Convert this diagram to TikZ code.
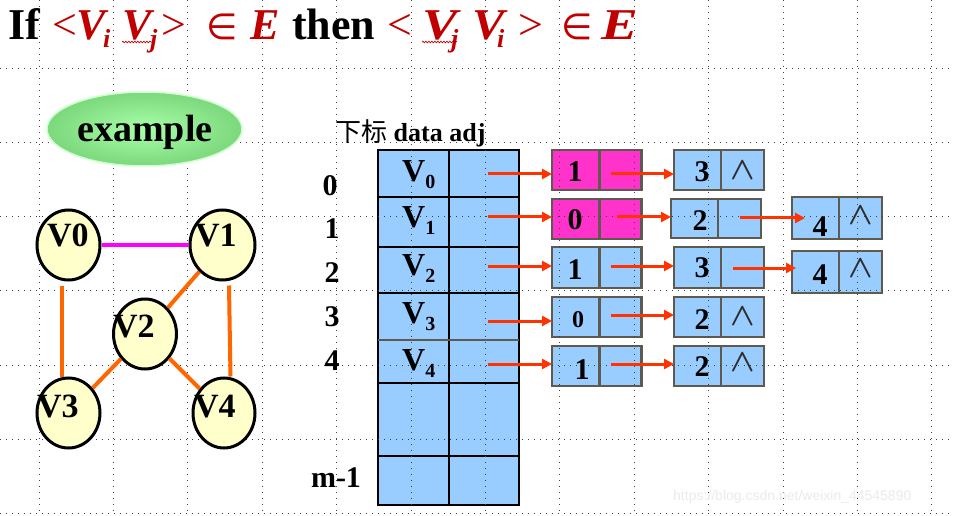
\RequirePackage{fix-cm}
\documentclass[tikz,border=0pt]{standalone}
\usepackage{fontspec}
\setmainfont{Liberation Serif}
\newfontfamily\dvs{DejaVu Sans}
\newfontfamily\cjk{Noto Sans CJK SC}
\newfontfamily\wmfont{Liberation Sans}
\usetikzlibrary{shapes.geometric,arrows.meta,decorations.pathmorphing,calc}
\definecolor{ttlred}{HTML}{C00000}
\definecolor{cellblue}{HTML}{99CCFF}
\definecolor{cellpink}{HTML}{FF33CC}
\definecolor{cellgray}{HTML}{5F5A50}
\definecolor{ptrred}{HTML}{FF3300}
\definecolor{edgeorange}{HTML}{FF6600}
\definecolor{edgemag}{HTML}{FF00FF}
\definecolor{nodeyellow}{HTML}{FFFFCC}
\definecolor{exin}{HTML}{A8FFA8}
\definecolor{exout}{HTML}{7CD87C}
\newcommand\fs[1]{\fontsize{#1}{#1}\selectfont}
\newcommand\Vsub[1]{V\raisebox{-7pt}{\fs{20}#1}}
\newcommand\nilsym{$\wedge$}
\tikzset{
  gridline/.style={black!75, line width=0.9pt, dash pattern=on 0.9pt off 5.1pt},
  tcell/.style={draw=black, line width=2pt, fill=cellblue, rectangle, inner sep=0pt, outer sep=0pt, anchor=north west},
  lcell/.style={draw=cellgray, line width=2.5pt, rectangle, inner sep=0pt, outer sep=0pt, anchor=north west},
  ptr/.style={ptrred, line width=3pt, -{Triangle[length=10pt,width=10pt]}},
  gnode/.style={ellipse, draw=black, line width=3pt, fill=nodeyellow, minimum width=63pt, minimum height=70pt, inner sep=0pt},
  glabel/.style={font=\fs{34}\bfseries, inner sep=0pt, anchor=base west},
  tlabel/.style={font=\fs{32}\bfseries, inner sep=0pt, anchor=base west},
  digit/.style={font=\fs{30}\bfseries, inner sep=0pt},
  nil/.style={font=\fs{32}\boldmath, text=black!82, inner sep=0pt},
  ttl/.style={inner sep=0pt, anchor=base west, font=\fs{44}},
  ttlsub/.style={inner sep=0pt, anchor=base west, font=\fs{26}\bfseries\itshape, text=ttlred},
  medge/.style={edgemag, line width=4pt},
  oedge/.style={edgeorange, line width=4pt},
  wavy/.style={ttlred, line width=0.7pt, decorate, decoration={snake, amplitude=0.8pt, segment length=3pt}}
}
\begin{document}
\begin{tikzpicture}[x=1pt, y=-1pt]
\useasboundingbox (0,0) rectangle (954,516);
\fill[white] (0,0) rectangle (954,516);

% ---- table ----
\foreach \i/\t/\h in {0/150/47.3, 1/197.3/49.4, 2/246.7/46.6, 3/293.3/46.7, 4/340/42.7, 5/382.7/73, 6/455.7/49.3}{
  \node[tcell, minimum width=71.3pt, minimum height=\h pt] (d\i) at (377.7,\t) {};
  \node[tcell, minimum width=70pt, minimum height=\h pt] (a\i) at (449,\t) {};
}
\draw[cellgray, line width=2pt] (d3.south west) -- (a3.south east);

% ---- list cells ----
\foreach \n/\x/\y/\w/\h/\c in {
  n0a/552/150/47.3/40/cellpink, n0b/599.3/150/42.4/40/cellpink, n0c/674/150/47/40/cellblue, n0d/721/150/43/40/cellblue,
  n1a/552/199/47.3/40/cellpink, n1b/599.3/199/42.4/40/cellpink, n1c/671/199/47/39/cellblue, n1d/718/199/43/39/cellblue,
  n1e/792/197/47/42/cellblue, n1f/839/197/43/42/cellblue,
  n2a/552/247/47.3/41/cellblue, n2b/599.3/247/42.4/41/cellblue, n2c/674/247/47/41/cellblue, n2d/721/247/43/41/cellblue,
  n2e/792/251/47/42/cellblue, n2f/839/251/43/42/cellblue,
  n3a/552/297/47.3/40/cellblue, n3b/599.3/297/42.4/40/cellblue, n3c/674/297/47/40/cellblue, n3d/721/297/43/40/cellblue,
  n4a/552/346/47.3/40/cellblue, n4b/599.3/346/42.4/40/cellblue, n4c/674/346/47/40/cellblue, n4d/721/346/43/40/cellblue}{
  \node[lcell, fill=\c, minimum width=\w pt, minimum height=\h pt] (\n) at (\x,\y) {};
}

% ---- grid ----
\foreach \k in {0,...,12} \draw[gridline] ({39+74.4*\k},0) -- ({39+74.4*\k},516);
\foreach \k in {0,...,6} \draw[gridline] (0,{68+74.3*\k}) -- (954,{68+74.3*\k});

% ---- table texts ----
\node[anchor=base west, inner sep=0pt, font=\fs{26}\bfseries] (hdr) at (335,142) {{\cjk\mdseries 下标} data adj};
\node[tlabel] (tv0) at (402,182) {\Vsub{0}};
\node[tlabel] (tv1) at (402,227) {\Vsub{1}};
\node[tlabel] (tv2) at (402,275) {\Vsub{2}};
\node[tlabel] (tv3) at (402,323) {\Vsub{3}};
\node[tlabel] (tv4) at (402,370) {\Vsub{4}};
\node[digit] (i0) at (330,186) {0};
\node[digit] (i1) at (332,229) {1};
\node[digit] (i2) at (332,273) {2};
\node[digit] (i3) at (332,317) {3};
\node[digit] (i4) at (332,361) {4};
\node[digit] (im) at (336,478) {m-1};

% ---- list texts ----
\node[digit] (x0a) at (575,172) {1};
\node[digit] (x0c) at (702,172) {3};
\node[nil]   (x0d) at (743,171) {\nilsym};
\node[digit] (x1a) at (575,220) {0};
\node[digit] (x1c) at (700,221) {2};
\node[digit] (x1e) at (820,227) {4};
\node[nil]   (x1f) at (861,216) {\nilsym};
\node[digit] (x2a) at (575,270) {1};
\node[digit] (x2c) at (702,268) {3};
\node[digit] (x2e) at (820,275) {4};
\node[nil]   (x2f) at (861,269) {\nilsym};
\node[digit, font=\fs{24}\bfseries] (x3a) at (578,320) {0};
\node[digit] (x3c) at (702,320) {2};
\node[nil]   (x3d) at (743,317) {\nilsym};
\node[digit] (x4a) at (582,370) {1};
\node[digit] (x4c) at (702,367) {2};
\node[nil]   (x4d) at (743,363) {\nilsym};

% ---- pointers ----
\coordinate (q0) at (488,174); \draw[ptr] (q0) -- (q0 -| n0a.west);
\coordinate (q1) at (488,217); \draw[ptr] (q1) -- (q1 -| n1a.west);
\coordinate (q2) at (488,266); \draw[ptr] (q2) -- (q2 -| n2a.west);
\coordinate (q3) at (488,321); \draw[ptr] (q3) -- (q3 -| n3a.west);
\coordinate (q4) at (488,364); \draw[ptr] (q4) -- (q4 -| n4a.west);
\coordinate (r0) at (611,174); \draw[ptr] (r0) -- (r0 -| n0c.west);
\coordinate (r1) at (617,217); \draw[ptr] (r1) -- (r1 -| n1c.west);
\coordinate (s1) at (740,218); \draw[ptr] (s1) -- ($(s1 -| n1e.west)+(13,0)$);
\coordinate (r2) at (611,266); \draw[ptr] (r2) -- (r2 -| n2c.west);
\coordinate (s2) at (733,268); \draw[ptr] (s2) -- ($(s2 -| n2e.west)+(4,0)$);
\coordinate (r3) at (611,315); \draw[ptr] (r3) -- (r3 -| n3c.west);
\coordinate (r4) at (611,364); \draw[ptr] (r4) -- (r4 -| n4c.west);

% ---- title ----
\node[ttl] (t1) at (8,40) {\bfseries If};
\node[ttl, text=ttlred] (t2) at (52,40) {<};
\node[ttl, text=ttlred, font=\fs{44}\bfseries\itshape] (t3) at (76,40) {V};
\node[ttlsub] (t4) at (103,48) {i};
\node[ttl, text=ttlred, font=\fs{44}\bfseries\itshape] (t5) at (122,40) {V};
\node[ttlsub] (t6) at (150,48) {j};
\node[ttl, text=ttlred] (t7) at (161,40) {>};
\node[ttl, text=ttlred, font=\dvs\fs{36}] (t8) at (206,40) {∈};
\node[ttl, text=ttlred, font=\fs{44}\bfseries\itshape] (t9) at (250,40) {E};
\node[ttl] (t10) at (292,40) {\bfseries then};
\node[ttl, text=ttlred] (t11) at (387,40) {<};
\node[ttl, text=ttlred, font=\fs{44}\bfseries\itshape] (t12) at (422,40) {\scalebox{1.2}[1]{V}};
\node[ttlsub] (t13) at (451,48) {j};
\node[ttl, text=ttlred, font=\fs{44}\bfseries\itshape] (t14) at (472,40) {\scalebox{1.1}[1]{V}};
\node[ttlsub] (t15) at (497,48) {i};
\node[ttl, text=ttlred] (t16) at (518,40) {>};
\node[ttl, text=ttlred, font=\dvs\fs{36}] (t17) at (561,40) {∈};
\node[ttl, text=ttlred, font=\fs{44}\bfseries\itshape] (t18) at (601,40) {\scalebox{1.25}[1]{E}};
\draw[wavy] (122,42) -- (152,42);
\draw[wavy] (422,42) -- (457,42);

% ---- example ----
\node[ellipse, minimum width=195pt, minimum height=74pt, inner sep=0pt, inner color=exin, outer color=exout, draw=exin!60!white, line width=1.5pt] (ex) at (144.5,129) {};
\node[anchor=base, inner sep=0pt, font=\fs{38}\bfseries] (ext) at (145,142) {example};

% ---- graph ----
\node[gnode] (v0) at (68.5,245) {};
\node[gnode, minimum width=65pt] (v1) at (222.5,245) {};
\node[gnode] (v2) at (145,334) {};
\node[gnode] (v3) at (68.5,413) {};
\node[gnode, minimum width=62pt] (v4) at (224,413) {};
\draw[medge] (v0) -- (v1);
\draw[oedge] ([xshift=-6.5pt,yshift=-4pt]v0.south) -- ([xshift=-6.5pt]v3.north);
\draw[oedge] ([xshift=6.5pt,yshift=-4pt]v1.south) -- ([xshift=6.5pt]v4.north);
\draw[oedge] (v1) -- (v2);
\draw[oedge] (v2) -- (v3);
\draw[oedge] (v2) -- (v4);
\node[glabel] (l0) at (47,247) {V0};
\node[glabel] (l1) at (195,247) {V1};
\node[glabel] (l2) at (113,337) {V2};
\node[glabel] (l3) at (37,417) {V3};
\node[glabel] (l4) at (194,417) {V4};

% ---- watermark ----
\node[anchor=west, inner sep=0pt, font=\wmfont\fs{14}, text=black!8] (wm) at (673,497) {https://blog.csdn.net/weixin\_44545890};
\end{tikzpicture}
\end{document}
